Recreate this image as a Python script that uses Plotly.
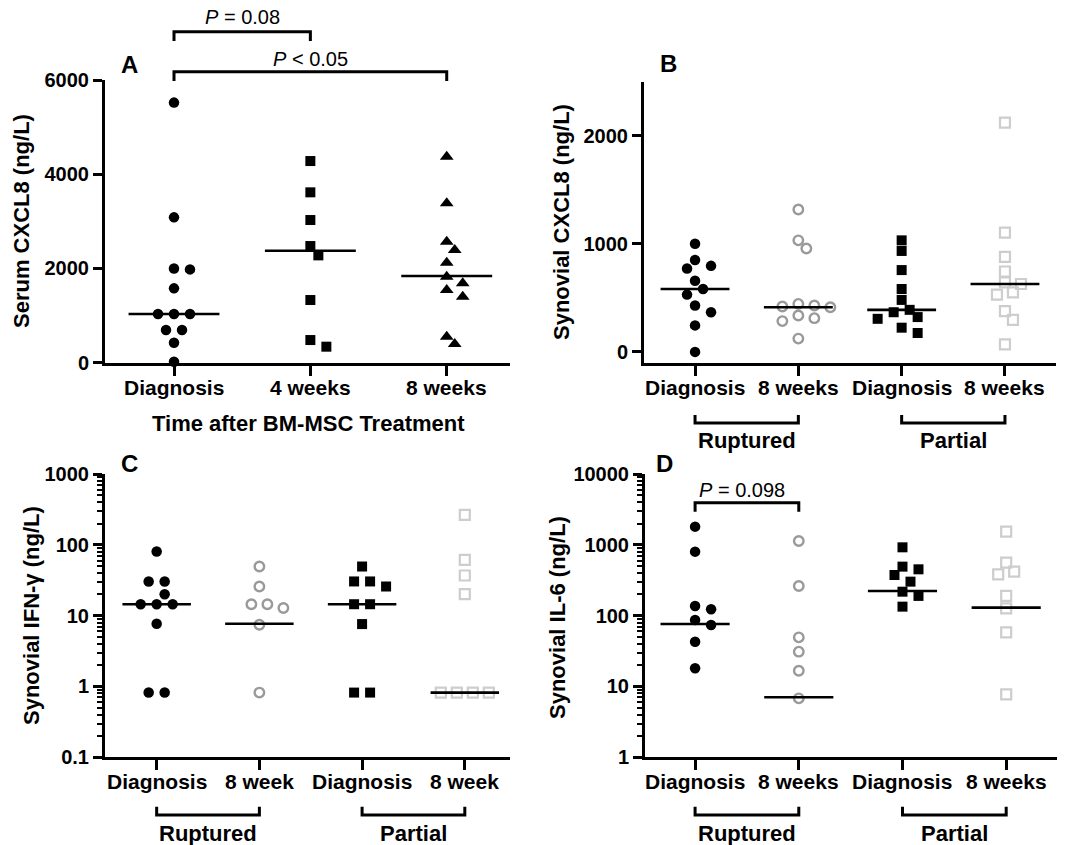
import math
import plotly.graph_objects as go

W, H = 1076, 845

# ---------------- data ----------------
a_categories = ["Diagnosis", "4 weeks", "8 weeks"]
a_diagnosis = [5520, 3085, 1980, 2000, 1578, 1033, 1033, 1033, 693, 693, 425, 20]
a_4weeks = [4280, 3616, 3028, 2476, 2278, 1330, 481, 340]
a_8weeks = [4373, 3382, 2568, 2392, 2123, 1825, 1684, 1542, 1401, 552, 396]
a_medians = [1033, 2377, 1840]
a_ticks = [0, 2000, 4000, 6000]

b_categories = ["Diagnosis", "8 weeks", "Diagnosis", "8 weeks"]
b_rup_diag = [1001, 851, 796, 772, 658, 582, 530, 429, 367, 245, 0]
b_rup_8w = [1317, 1032, 956, 444, 429, 420, 413, 337, 312, 285, 123]
b_par_diag = [1032, 934, 757, 582, 481, 389, 367, 322, 306, 224, 175]
b_par_8w = [2122, 1103, 879, 744, 643, 628, 551, 530, 377, 297, 70]
b_medians = [582, 413, 389, 628]
b_ticks = [0, 1000, 2000]

c_categories = ["Diagnosis", "8 week", "Diagnosis", "8 week"]
c_rup_diag = [80.5, 30.4, 30.4, 20.1, 14.5, 14.5, 14.5, 7.67, 0.82, 0.82]
c_rup_8w = [49.4, 25.8, 14.5, 12.8, 14.5, 7.43, 0.82]
c_par_diag = [49.4, 30.4, 30.4, 25.8, 14.5, 14.5, 7.6, 0.82, 0.82]
c_par_8w = [265, 61.4, 36.9, 20.1, 0.82, 0.82, 0.82, 0.82]
c_medians = [14.5, 7.7, 14.5, 0.82]
c_ticks = [0.1, 1, 10, 100, 1000]
c_ticklabels = ["0.1", "1", "10", "100", "1000"]

d_categories = ["Diagnosis", "8 weeks", "Diagnosis", "8 weeks"]
d_rup_diag = [1805, 801, 137, 123, 86.9, 73.8, 42.9, 18.1]
d_rup_8w = [1132, 262, 49.4, 31, 16.7, 6.8]
d_par_diag = [922, 492, 451, 375, 302, 218, 190, 134]
d_par_8w = [1535, 560, 418, 383, 190, 127, 58.2, 7.75]
d_medians = [76.3, 7.03, 223, 130]
d_ticks = [1, 10, 100, 1000, 10000]
d_ticklabels = ["1", "10", "100", "1000", "10000"]

group_labels = ["Ruptured", "Partial"]

# ---------------- styles ----------------
FONT = "Liberation Sans, Arial, sans-serif"
BLACK = "#000000"
GRAY = "#9a9a9a"
LIGHT = "#cdcdcd"
STY = {
    "fcircle": dict(symbol="circle", size=10.5, color=BLACK),
    "fsquare": dict(symbol="square", size=10, color=BLACK),
    "ftri": dict(symbol="triangle-up", size=12, color=BLACK),
    "ocircle": dict(symbol="circle-open", size=9.5, color=GRAY, line=dict(width=2.4, color=GRAY)),
    "osquare": dict(symbol="square-open", size=10, color=LIGHT, line=dict(width=2.2, color=LIGHT)),
}

# panel geometry in pixels
P = {
    "A": dict(xa="x", ya="y", x0=105, x1=510, xr=[-0.506, 2.464], top=80, bot=362.7, yr=[0, 6000], log=False, lab=387),
    "B": dict(xa="x2", ya="y2", x0=644, x1=1056, xr=[-0.494, 3.494], top=81.7, bot=362.7, yr=[-100, 2500], log=False, lab=387),
    "C": dict(xa="x3", ya="y3", x0=105, x1=510, xr=[-0.503, 3.44], top=474, bot=757.3, yr=[-1, 3], log=True, lab=781.5),
    "D": dict(xa="x4", ya="y4", x0=645, x1=1057, xr=[-0.483, 3.49], top=474, bot=757.3, yr=[0, 4], log=True, lab=781.5),
}


def ypix(p, v):
    t = math.log10(v) if p["log"] else v
    lo, hi = p["yr"]
    return p["bot"] - (t - lo) / (hi - lo) * (p["bot"] - p["top"])


def ppc(p):
    return (p["x1"] - p["x0"]) / (p["xr"][1] - p["xr"][0])


def swarm(p, vals, step=8.0, dmin=10.5, tie_gap=16.0):
    offs = [None] * len(vals)
    placed = []
    groups = {}
    for i, v in enumerate(vals):
        groups.setdefault(v, []).append(i)
    for v, idx in groups.items():
        if len(idx) > 1:
            n = len(idx)
            for j, i in enumerate(idx):
                o = (j - (n - 1) / 2) * tie_gap
                offs[i] = o
                placed.append((o, ypix(p, v)))
    order = sorted([i for i in range(len(vals)) if offs[i] is None], key=lambda i: -vals[i])
    for i in order:
        yp = ypix(p, vals[i])
        cands = [0]
        for m in range(1, 12):
            cands += [m * step, -m * step]
        for xo in cands:
            if all((xo - a) ** 2 + (yp - b) ** 2 >= dmin ** 2 for a, b in placed):
                break
        offs[i] = xo
        placed.append((xo, yp))
    return [o / ppc(p) for o in offs]


fig = go.Figure()


def add_group(key, idx, vals, style):
    p = P[key]
    offs = swarm(p, vals)
    fig.add_trace(go.Scatter(
        x=[idx + o for o in offs], y=vals, mode="markers",
        marker=STY[style], xaxis=p["xa"], yaxis=p["ya"],
        cliponaxis=False, showlegend=False, hoverinfo="skip"))


def add_medians(key, meds):
    p = P[key]
    for i, m in enumerate(meds):
        fig.add_trace(go.Scatter(
            x=[i - 1 / 3, i + 1 / 3], y=[m, m], mode="lines",
            line=dict(color=BLACK, width=2.6), xaxis=p["xa"], yaxis=p["ya"],
            cliponaxis=False, showlegend=False, hoverinfo="skip"))


add_group("A", 0, a_diagnosis, "fcircle")
add_group("A", 1, a_4weeks, "fsquare")
add_group("A", 2, a_8weeks, "ftri")
add_medians("A", a_medians)

add_group("B", 0, b_rup_diag, "fcircle")
add_group("B", 1, b_rup_8w, "ocircle")
add_group("B", 2, b_par_diag, "fsquare")
add_group("B", 3, b_par_8w, "osquare")
add_medians("B", b_medians)

add_group("C", 0, c_rup_diag, "fcircle")
add_group("C", 1, c_rup_8w, "ocircle")
add_group("C", 2, c_par_diag, "fsquare")
add_group("C", 3, c_par_8w, "osquare")
add_medians("C", c_medians)

add_group("D", 0, d_rup_diag, "fcircle")
add_group("D", 1, d_rup_8w, "ocircle")
add_group("D", 2, d_par_diag, "fsquare")
add_group("D", 3, d_par_8w, "osquare")
add_medians("D", d_medians)

tickfont = dict(family=FONT, size=20, color=BLACK, weight="bold")
layout = {}
cats = {"A": a_categories, "B": b_categories, "C": c_categories, "D": d_categories}
yt = {"A": (a_ticks, [str(t) for t in a_ticks]), "B": (b_ticks, [str(t) for t in b_ticks]),
      "C": (c_ticks, c_ticklabels), "D": (d_ticks, d_ticklabels)}
for key, p in P.items():
    xname = "xaxis" + p["xa"][1:]
    yname = "yaxis" + p["ya"][1:]
    layout[xname] = dict(
        domain=[p["x0"] / W, p["x1"] / W], range=p["xr"], anchor=p["ya"],
        tickvals=list(range(len(cats[key]))), showticklabels=False,
        showline=True, linewidth=3, linecolor=BLACK, ticks="outside", ticklen=10,
        tickwidth=3, tickcolor=BLACK, showgrid=False, zeroline=False,
        fixedrange=True, automargin=False)
    yd = dict(
        domain=[1 - p["bot"] / H, 1 - p["top"] / H], range=p["yr"], anchor=p["xa"],
        tickvals=yt[key][0], ticktext=yt[key][1],
        showline=True, linewidth=3, linecolor=BLACK, ticks="outside", ticklen=9,
        tickwidth=3, tickcolor=BLACK, showgrid=False, zeroline=False, tickfont=tickfont,
        fixedrange=True, automargin=False)
    if p["log"]:
        yd["type"] = "log"
        lo, hi = p["yr"]
        minor_vals = [m * 10 ** e for e in range(lo, hi) for m in range(2, 10)]
        yd["minor"] = dict(tickvals=minor_vals, ticks="outside", ticklen=5, tickwidth=2,
                           tickcolor=BLACK, showgrid=False)
    layout[yname] = yd

annotations = []
shapes = []


def ann(text, x, y, size=22, bold=True, angle=0, xref="paper"):
    annotations.append(dict(
        text=text, x=x if xref != "paper" else x / W, y=1 - y / H, xref=xref, yref="paper",
        showarrow=False, textangle=angle, xanchor="center", yanchor="middle",
        font=dict(family=FONT, size=size, color=BLACK, weight="bold" if bold else "normal")))


# category (x tick) labels
for key, p in P.items():
    for i, c in enumerate(cats[key]):
        ann(c, i, p["lab"], size=21, xref=p["xa"])

# y-axis titles
ann("Serum CXCL8 (ng/L)", 22, 221, angle=-90)
ann("Synovial CXCL8 (ng/L)", 562, 222, angle=-90)
ann("Synovial IFN-γ (ng/L)", 31, 616, angle=-90)
ann("Synovial IL-6 (ng/L)", 557, 618, angle=-90)
# x-axis title A
ann("Time after BM-MSC Treatment", 308, 423, size=22)
# panel letters
ann("A", 129, 65, size=24)
ann("B", 668, 63, size=24)
ann("C", 129, 463, size=24)
ann("D", 664, 463, size=24)


def bracket(xref, xa, xb, yline, ytick, width=3):
    path = "M {a},{t} L {a},{l} L {b},{l} L {b},{t}".format(
        a=xa, b=xb, t=1 - ytick / H, l=1 - yline / H)
    shapes.append(dict(type="path", path=path, xref=xref, yref="paper",
                       line=dict(color=BLACK, width=width)))


# significance brackets
bracket("x", 0, 1, 31.7, 41)
ann("<i>P</i> = 0.08", 0.5, 17, size=20, bold=False, xref="x")
bracket("x", 0, 2, 71.7, 81)
ann("<i>P</i> < 0.05", 1.0, 59, size=20, bold=False, xref="x")
bracket("x4", 0, 1, 502.7, 511.7)
ann("<i>P</i> = 0.098", 0.45, 490, size=20, bold=False, xref="x4")

# group brackets
for xr_, yl, ytk, ylab in [("x2", 423, 415, 440), ("x3", 815, 806.7, 833), ("x4", 815, 806.7, 833)]:
    for gi, lab in enumerate(group_labels):
        a = 2 * gi
        bracket(xr_, a, a + 1, yl, ytk)
        ann(lab, a + 0.5, ylab, size=22, xref=xr_)

fig.update_layout(
    width=W, height=H, margin=dict(l=0, r=0, t=0, b=0, autoexpand=False),
    paper_bgcolor="white", plot_bgcolor="white",
    annotations=annotations, shapes=shapes, showlegend=False,
    **layout)

fig.write_html(
    "out.html",
    config={"displayModeBar": False},
    post_script="document.body.style.margin='0';document.body.style.overflow='hidden';")
